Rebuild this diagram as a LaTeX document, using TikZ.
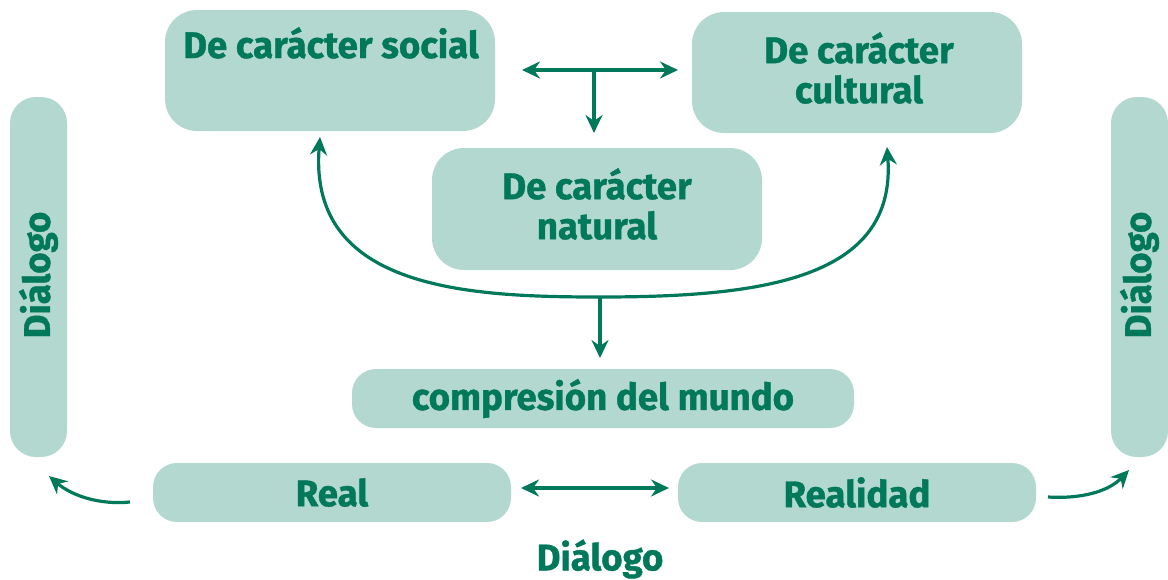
\documentclass[tikz,border=0pt]{standalone}
\usepackage{fontspec}
\setmainfont{Fira Sans}[FakeStretch=0.99,FakeBold=1]
\usetikzlibrary{arrows.meta}
\definecolor{boxfill}{HTML}{B3D8CF}
\definecolor{dgreen}{HTML}{00785A}
\tikzset{
  box/.style={fill=boxfill, draw=none, rounded corners=#1, inner sep=0pt},
  box/.default=30pt,
  lbl/.style={text=dgreen, font=\fontsize{37}{40}\selectfont\bfseries, align=center, inner sep=0pt},
  conn/.style={draw=dgreen, line width=3.2pt, -{Stealth[length=18pt,width=17pt,inset=6pt]}},
  biconn/.style={draw=dgreen, line width=3.2pt, {Stealth[length=18pt,width=17pt,inset=6pt]}-{Stealth[length=18pt,width=17pt,inset=6pt]}},
}
\begin{document}
\begin{tikzpicture}[x=1pt,y=-1pt]
\useasboundingbox (0,0) rectangle (1168,579);
% boxes
\node[box=32pt, minimum width=330pt, minimum height=121pt] (social) at (330,70.5) {};
\node[lbl, anchor=base] (socialtxt) at (331,58) {De carácter social};
\node[box=32pt, minimum width=330pt, minimum height=121pt] (cultural) at (857,72.5) {};
\node[lbl] (culturaltxt) at (859,68) {De carácter\\cultural};
\node[box=32pt, minimum width=330pt, minimum height=122pt] (natural) at (597,209) {};
\node[lbl] (naturaltxt) at (597,204) {De carácter\\natural};
\node[box=24pt, minimum width=502pt, minimum height=59pt, lbl] (mundo) at (603,398.5) {compresión del mundo};
\node[box=24pt, minimum width=358pt, minimum height=59pt, lbl] (real) at (332,492.5) {Real};
\node[box=24pt, minimum width=358pt, minimum height=59pt, lbl] (realidad) at (857,492.5) {Realidad};
\node[box=26pt, minimum width=57pt, minimum height=360pt] (dleft) at (38.5,277) {};
\node[lbl, rotate=90] (dlefttxt) at (38.5,275) {Diálogo};
\node[box=26pt, minimum width=57pt, minimum height=360pt] (dright) at (1139.5,277) {};
\node[lbl, rotate=90] (drighttxt) at (1139.5,275) {Diálogo};
\node[lbl] (dbottom) at (600,559) {Diálogo};
% connectors
\coordinate (tl) at (522,70);
\coordinate (tr) at (678,70);
\coordinate (tm) at (594,70);
\coordinate (tb) at (594,133);
\draw[biconn] (tl) -- (tr);
\draw[conn] (tm) -- (tb);
\coordinate (cl) at (320,137);
\coordinate (cm) at (600,297);
\coordinate (cr) at (887,147);
\draw[biconn] (cl) .. controls (308,290) and (470,297) .. (cm) .. controls (760,297) and (897,280) .. (cr);
\coordinate (cd) at (600,358);
\draw[conn] (cm) -- (cd);
\coordinate (rl) at (521,488);
\coordinate (rr) at (669,488);
\draw[biconn] (rl) -- (rr);
\coordinate (la) at (130,502);
\coordinate (lb) at (49,476);
\draw[conn] (la) .. controls (100,505) and (72,496) .. (lb);
\coordinate (ra) at (1048,497);
\coordinate (rb) at (1129,470);
\draw[conn] (ra) .. controls (1080,499) and (1108,492) .. (rb);
\end{tikzpicture}
\end{document}
